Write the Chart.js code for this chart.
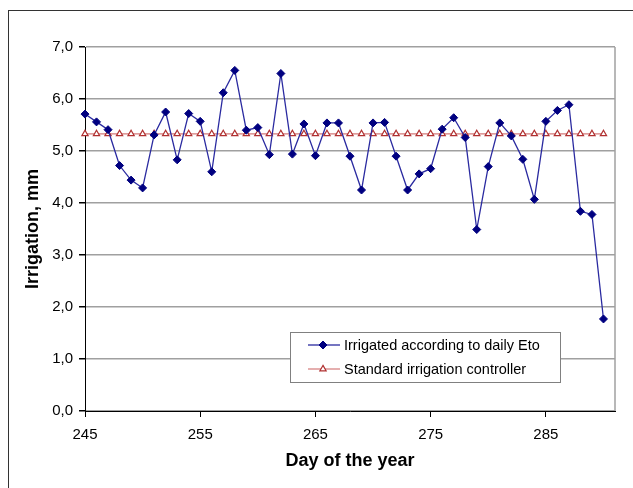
<!DOCTYPE html>
<html>
<head>
<meta charset="utf-8">
<script src="https://cdn.jsdelivr.net/npm/chart.js@4"></script>
<style>
  body { margin: 0; background: #fff; }
  canvas { display: block; }
</style>
</head>
<body>
<canvas id="chartIrrigacao" width="633" height="488"></canvas>
<script>
// dias do ano (eixo x) e irrigação em mm
const days = [245, 246, 247, 248, 249, 250, 251, 252, 253, 254, 255, 256, 257, 258, 259, 260,
  261, 262, 263, 264, 265, 266, 267, 268, 269, 270, 271, 272, 273, 274, 275, 276, 277, 278,
  279, 280, 281, 282, 283, 284, 285, 286, 287, 288, 289, 290];
const etoIrrigation = [5.71, 5.56, 5.41, 4.72, 4.44, 4.29, 5.31, 5.75, 4.83, 5.72, 5.57, 4.60,
  6.12, 6.55, 5.40, 5.45, 4.93, 6.49, 4.94, 5.52, 4.91, 5.54, 5.54, 4.90, 4.25, 5.54, 5.55,
  4.90, 4.25, 4.56, 4.66, 5.42, 5.64, 5.26, 3.49, 4.70, 5.54, 5.29, 4.84, 4.07, 5.57, 5.78,
  5.89, 3.84, 3.78, 1.77];
const standardIrrigation = [5.33, 5.33, 5.33, 5.33, 5.33, 5.33, 5.33, 5.33, 5.33, 5.33, 5.33,
  5.33, 5.33, 5.33, 5.33, 5.33, 5.33, 5.33, 5.33, 5.33, 5.33, 5.33, 5.33, 5.33, 5.33, 5.33,
  5.33, 5.33, 5.33, 5.33, 5.33, 5.33, 5.33, 5.33, 5.33, 5.33, 5.33, 5.33, 5.33, 5.33, 5.33,
  5.33, 5.33, 5.33, 5.33, 5.33];
const xTicks = [245, 255, 265, 275, 285];
const seriesLabels = ['Irrigated according to daily Eto', 'Standard irrigation controller'];

const FONT = '"Liberation Sans", Arial, sans-serif';
const ETO_LINE = '#2a2aa0';
const ETO_POINT = '#000080';
const STD_LINE = '#d47a7a';
const STD_POINT = '#b03030';

// moldura externa + borda direita da área do gráfico
const framePlugin = {
  id: 'frame',
  beforeDraw(chart) {
    const { ctx } = chart;
    ctx.save();
    ctx.fillStyle = '#fff';
    ctx.fillRect(0, 0, chart.width, chart.height);
    ctx.strokeStyle = '#333';
    ctx.lineWidth = 1;
    ctx.strokeRect(8.5, 10.5, chart.width + 20, chart.height + 20);
    ctx.restore();
  },
  beforeDatasetsDraw(chart) {
    const { ctx, chartArea } = chart;
    ctx.save();
    ctx.strokeStyle = '#a0a0a0';
    ctx.lineWidth = 1.5;
    ctx.beginPath();
    ctx.moveTo(chartArea.right, chartArea.top);
    ctx.lineTo(chartArea.right, chartArea.bottom);
    ctx.stroke();
    ctx.restore();
  },
};

// legenda dentro da área do gráfico, como no Excel
const legendBoxPlugin = {
  id: 'legendBox',
  afterDraw(chart) {
    const { ctx, chartArea } = chart;
    const x = chartArea.left + 205;
    const y = chartArea.top + 285;
    const w = 270;
    const h = 50;
    ctx.save();
    ctx.fillStyle = '#fff';
    ctx.fillRect(x, y, w, h);
    ctx.strokeStyle = '#808080';
    ctx.lineWidth = 1;
    ctx.strokeRect(x + 0.5, y + 0.5, w, h);
    ctx.font = '14.5px ' + FONT;
    ctx.textBaseline = 'middle';
    chart.data.datasets.forEach((ds, i) => {
      const cy = y + 13 + i * 24;
      ctx.strokeStyle = ds.borderColor;
      ctx.lineWidth = ds.borderWidth;
      ctx.beginPath();
      ctx.moveTo(x + 18, cy);
      ctx.lineTo(x + 50, cy);
      ctx.stroke();
      ctx.fillStyle = ds.pointBackgroundColor;
      ctx.strokeStyle = ds.pointBorderColor;
      ctx.lineWidth = ds.pointBorderWidth;
      Chart.helpers.drawPoint(ctx, {
        pointStyle: ds.pointStyle,
        radius: ds.pointRadius,
        borderWidth: ds.pointBorderWidth,
      }, x + 33, cy);
      ctx.fillStyle = '#000';
      ctx.fillText(ds.label, x + 54, cy + 1);
    });
    ctx.restore();
  },
};

new Chart(document.getElementById('chartIrrigacao'), {
  type: 'line',
  data: {
    datasets: [
      {
        label: seriesLabels[0],
        data: days.map((d, i) => ({ x: d, y: etoIrrigation[i] })),
        borderColor: ETO_LINE,
        borderWidth: 1.3,
        pointStyle: 'rectRot',
        pointRadius: 4,
        pointBackgroundColor: ETO_POINT,
        pointBorderColor: ETO_POINT,
        pointBorderWidth: 1,
        tension: 0,
        clip: false,
        order: 1,
      },
      {
        label: seriesLabels[1],
        data: days.map((d, i) => ({ x: d, y: standardIrrigation[i] })),
        borderColor: STD_LINE,
        borderWidth: 1.2,
        pointStyle: 'triangle',
        pointRadius: 3.6,
        pointBackgroundColor: '#fff',
        pointBorderColor: STD_POINT,
        pointBorderWidth: 1.2,
        tension: 0,
        clip: false,
        order: 2,
      },
    ],
  },
  options: {
    responsive: false,
    animation: false,
    layout: { padding: { top: 47, right: 18, left: 0, bottom: 0 } },
    plugins: {
      legend: { display: false },
      tooltip: { enabled: false },
    },
    scales: {
      x: {
        type: 'linear',
        min: 245,
        max: 291,
        afterBuildTicks: (scale) => { scale.ticks = xTicks.map((v) => ({ value: v })); },
        afterFit: (scale) => { scale.height = 77; },
        grid: { drawOnChartArea: false, drawTicks: true, tickLength: 6, tickColor: '#000' },
        border: { display: true, color: '#000', width: 1 },
        ticks: {
          color: '#000',
          padding: 9,
          maxRotation: 0,
          font: { family: FONT, size: 15 },
        },
        title: {
          display: true,
          text: 'Day of the year',
          color: '#000',
          padding: { top: 0, bottom: 16 },
          font: { family: FONT, size: 18, weight: 'bold' },
        },
      },
      y: {
        min: 0,
        max: 7,
        afterFit: (scale) => { scale.width = 85; },
        grid: { color: '#a0a0a0', lineWidth: 1.5, tickLength: 6, tickColor: '#000' },
        border: { display: true, color: '#000', width: 1 },
        ticks: {
          stepSize: 1,
          color: '#000',
          padding: 6,
          font: { family: FONT, size: 15 },
          callback: (value) => Number(value).toFixed(1).replace('.', ','),
        },
        title: {
          display: true,
          text: 'Irrigation, mm',
          color: '#000',
          padding: { top: 22, bottom: 0 },
          font: { family: FONT, size: 18, weight: 'bold' },
        },
      },
    },
  },
  plugins: [framePlugin, legendBoxPlugin],
});
</script>
</body>
</html>
